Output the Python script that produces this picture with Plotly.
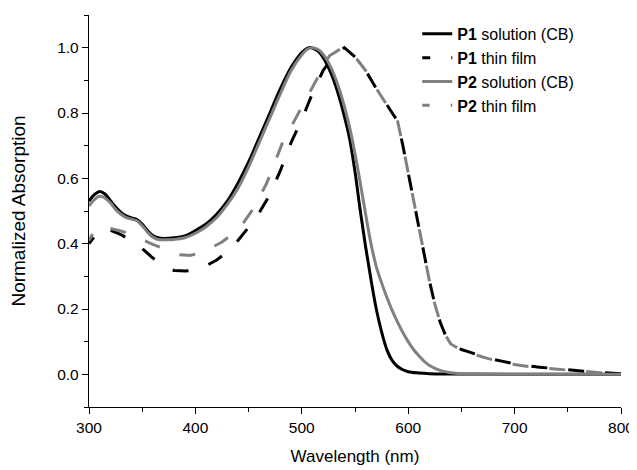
import math
import plotly.graph_objects as go

# P1 solution (CB) - black solid
wl_p1_sol = [300, 305, 310, 315, 320, 325, 330, 335, 340, 345, 350, 355, 360, 365, 370,
             380, 390, 400, 410, 420, 430, 440, 450, 460, 470, 480, 490, 500, 505, 509,
             515, 520, 525, 530, 535, 540, 545, 550, 555, 560, 565, 570, 575, 580, 585,
             590, 595, 600, 610, 620, 640, 700, 800]
abs_p1_sol = [0.530, 0.550, 0.560, 0.552, 0.532, 0.512, 0.496, 0.485, 0.479, 0.474, 0.460, 0.440, 0.425, 0.418, 0.416,
              0.418, 0.424, 0.440, 0.460, 0.490, 0.530, 0.585, 0.650, 0.725, 0.800, 0.875, 0.940, 0.985, 0.998, 1.000,
              0.990, 0.970, 0.940, 0.900, 0.850, 0.790, 0.720, 0.620, 0.500, 0.390, 0.290, 0.200, 0.130, 0.075, 0.042,
              0.024, 0.014, 0.008, 0.004, 0.002, 0.001, 0.000, 0.000]

# P1 thin film - black dashed
wl_p1_film = [300, 310, 315, 320, 330, 340, 350, 360, 370, 380, 390, 400, 410, 420, 430,
              440, 450, 460, 470, 480, 490, 500, 510, 520, 530, 540, 550, 560, 570, 580,
              590, 595, 600, 605, 610, 615, 620, 625, 630, 635, 640, 650, 660, 670, 680,
              690, 700, 720, 740, 760, 780, 800]
abs_p1_film = [0.400, 0.443, 0.446, 0.441, 0.428, 0.408, 0.385, 0.356, 0.333, 0.318, 0.316, 0.320, 0.332, 0.350, 0.375,
               0.410, 0.450, 0.495, 0.550, 0.625, 0.710, 0.780, 0.860, 0.930, 0.975, 1.000, 0.972, 0.930, 0.875, 0.825,
               0.775, 0.700, 0.615, 0.530, 0.450, 0.370, 0.285, 0.215, 0.160, 0.120, 0.095, 0.076, 0.065, 0.055, 0.046,
               0.038, 0.032, 0.023, 0.016, 0.011, 0.006, 0.002]

# P2 solution (CB) - gray solid
wl_p2_sol = [300, 305, 310, 315, 320, 325, 330, 335, 340, 345, 350, 355, 360, 365, 370,
             380, 390, 400, 410, 420, 430, 440, 450, 460, 470, 480, 490, 500, 505, 510,
             515, 520, 525, 530, 535, 540, 545, 550, 555, 560, 565, 570, 575, 580, 585,
             590, 595, 600, 605, 610, 615, 620, 630, 640, 650, 700, 800]
abs_p2_sol = [0.515, 0.535, 0.545, 0.540, 0.525, 0.505, 0.490, 0.480, 0.475, 0.470, 0.455, 0.435, 0.420, 0.413, 0.412,
              0.413, 0.418, 0.432, 0.452, 0.480, 0.520, 0.570, 0.635, 0.710, 0.785, 0.860, 0.930, 0.978, 0.995, 1.000,
              0.995, 0.980, 0.955, 0.920, 0.875, 0.820, 0.755, 0.675, 0.585, 0.490, 0.400, 0.330, 0.280, 0.235, 0.195,
              0.160, 0.128, 0.100, 0.076, 0.057, 0.040, 0.027, 0.012, 0.005, 0.002, 0.000, 0.000]

# P2 thin film - gray dashed
wl_p2_film = [300, 306, 310, 320, 332, 345, 360, 375, 385, 395, 405, 415, 425, 435, 445,
              455, 467, 482, 498, 514, 526, 538, 550, 560, 570, 580, 590, 595, 600, 605,
              610, 615, 620, 625, 630, 635, 640, 650, 660, 670, 680, 690, 700, 720, 740,
              760, 780, 800]
abs_p2_film = [0.410, 0.445, 0.450, 0.447, 0.437, 0.420, 0.398, 0.378, 0.366, 0.364, 0.372, 0.388, 0.405, 0.430, 0.463,
               0.510, 0.585, 0.710, 0.805, 0.900, 0.975, 1.000, 0.972, 0.930, 0.875, 0.825, 0.775, 0.700, 0.615, 0.530,
               0.450, 0.370, 0.285, 0.215, 0.160, 0.120, 0.093, 0.074, 0.063, 0.053, 0.044, 0.036, 0.030, 0.021, 0.015,
               0.010, 0.005, 0.002]

x_ticks = [300, 400, 500, 600, 700, 800]
y_ticks = [0.0, 0.2, 0.4, 0.6, 0.8, 1.0]

FONT = "Liberation Sans, Arial, sans-serif"
GRAY = "#808080"

# page body has an 8px margin, figure size and margins account for it
W, H = 633, 462
MARGIN = dict(l=81, r=20, t=7, b=63)
X_RANGE = [300, 800]
Y_RANGE = [-0.1, 1.1]
DASH_ON, DASH_OFF = 16, 21


# Path length (px) of a trace up to wavelength stop, used to line up the dash phases
def pathLength(xs, ys, stop):
    pw = W - MARGIN["l"] - MARGIN["r"]
    ph = H - MARGIN["t"] - MARGIN["b"]
    length = 0.0
    for i in range(1, len(xs)):
        if xs[i] > stop:
            break
        dx = (xs[i] - xs[i-1]) / (X_RANGE[1] - X_RANGE[0]) * pw
        dy = (ys[i] - ys[i-1]) / (Y_RANGE[1] - Y_RANGE[0]) * ph
        length += math.hypot(dx, dy)
    return length


# Dash pattern whose full dashes start at offset s along the path
def dashPattern(s):
    period = DASH_ON + DASH_OFF
    s = s % period
    if s >= DASH_OFF:
        parts = [s - DASH_OFF, DASH_OFF, period - s, 0]
    else:
        parts = [0, s, DASH_ON, DASH_OFF - s]
    return ",".join("%.2fpx" % p for p in parts)


def addSeries(fig, x, y, name, color, dash, shape):
    fig.add_trace(go.Scatter(
        x=x, y=y, name=name, mode="lines",
        line=dict(color=color, width=3, dash=dash, shape=shape),
    ))


def main():
    fig = go.Figure()

    # the two film curves share the red edge, dashes there alternate black / gray
    period = DASH_ON + DASH_OFF
    l1 = pathLength(wl_p1_film, abs_p1_film, 550)
    l2 = pathLength(wl_p2_film, abs_p2_film, 550)
    dashP1 = dashPattern(DASH_OFF + 8)
    dashP2 = dashPattern(DASH_OFF + 8 + l2 - l1 + period / 2)

    addSeries(fig, wl_p1_sol, abs_p1_sol, "<b>P1</b> solution (CB)", "black", "solid", "spline")
    addSeries(fig, wl_p1_film, abs_p1_film, "<b>P1</b> thin film", "black", dashP1, "linear")
    addSeries(fig, wl_p2_sol, abs_p2_sol, "<b>P2</b> solution (CB)", GRAY, "solid", "spline")
    addSeries(fig, wl_p2_film, abs_p2_film, "<b>P2</b> thin film", GRAY, dashP2, "linear")

    axisStyle = dict(
        showline=True, linecolor="black", linewidth=1.3,
        ticks="outside", ticklen=6, tickwidth=1.3, tickcolor="black",
        showgrid=False, zeroline=False, mirror=False, automargin=False,
        tickfont=dict(size=15.5),
    )

    fig.update_xaxes(
        range=X_RANGE, tickvals=x_ticks,
        minor=dict(ticks="outside", ticklen=4, tickwidth=1.3, tickcolor="black", dtick=50, tick0=300, showgrid=False),
        title=dict(text="Wavelength (nm)", font=dict(size=17), standoff=15),
        **axisStyle,
    )
    fig.update_yaxes(
        range=Y_RANGE, tickvals=y_ticks, tickformat=".1f",
        minor=dict(ticks="outside", ticklen=4, tickwidth=1.3, tickcolor="black", dtick=0.1, tick0=0, showgrid=False),
        title=dict(text="Normalized Absorption", font=dict(size=19), standoff=28),
        **axisStyle,
    )

    fig.update_layout(
        width=W, height=H,
        margin=MARGIN,
        paper_bgcolor="white", plot_bgcolor="white",
        font=dict(family=FONT, size=15, color="black"),
        legend=dict(x=0.617, y=0.995, xanchor="left", yanchor="top",
                    bgcolor="rgba(0,0,0,0)", font=dict(size=16),
                    itemwidth=30, tracegroupgap=0),
    )

    fig.write_html("out.html")


if __name__ == "__main__":
    main()
